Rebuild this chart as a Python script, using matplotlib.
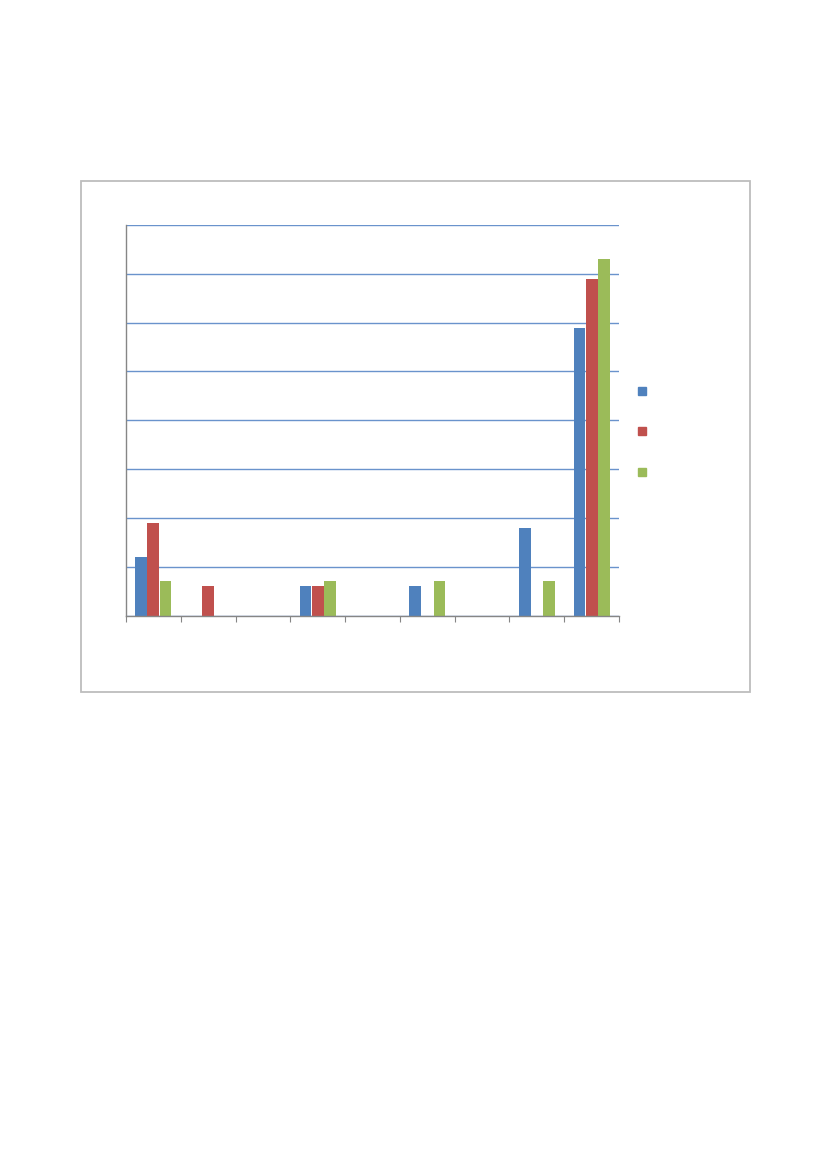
import matplotlib
matplotlib.use("Agg")
import matplotlib.pyplot as plt
from matplotlib.lines import Line2D
from matplotlib.patches import Rectangle
import numpy as np

categories = ["", "", "", "", "", "", "", "", ""]
series_names = ["", "", ""]
series_a = [1.2, 0, 0, 0.6, 0, 0.6, 0, 1.8, 5.9]
series_b = [1.9, 0.6, 0, 0.6, 0, 0, 0, 0, 6.9]
series_c = [0.7, 0, 0, 0.7, 0, 0.7, 0, 0.7, 7.3]
colors = ["#4F81BD", "#C0504D", "#9BBB59"]

fig = plt.figure(figsize=(8.27, 11.69), dpi=100)
fig.patch.set_facecolor("white")

# outer chart frame
fig.add_artist(Rectangle((81 / 827, 1 - 692 / 1169), (750 - 81) / 827, (692 - 181) / 1169,
                         transform=fig.transFigure, fill=False, edgecolor="#BDBDBD", linewidth=1.3))

ax = fig.add_axes([126 / 827, 1 - 615.5 / 1169, 493 / 827, 390.5 / 1169])
x = np.arange(len(categories))
w = 0.222
for i, (vals, c) in enumerate(zip([series_a, series_b, series_c], colors)):
    ax.bar(x + (i - 1) * w, vals, width=w * 0.97, color=c, linewidth=0, zorder=3)

ax.set_xlim(-0.5, len(categories) - 0.5)
ax.set_ylim(0, 8)
ax.set_yticks(np.arange(0, 9, 1))
ax.yaxis.grid(True, color="#6A93CC", linewidth=1.0, zorder=0)
ax.tick_params(axis="y", length=0, labelleft=False)
ax.set_xticks(np.arange(-0.5, len(categories), 1))
ax.tick_params(axis="x", direction="out", length=4, color="#868686", labelbottom=False)
for s in ["top", "right"]:
    ax.spines[s].set_visible(False)
for s in ["left", "bottom"]:
    ax.spines[s].set_color("#868686")
    ax.spines[s].set_linewidth(1.0)
    ax.spines[s].set_zorder(4)
ax.set_facecolor("none")

handles = [Line2D([], [], marker="s", linestyle="none", markersize=5.2, color=c,
                  markeredgecolor=c) for c in colors]
fig.legend(handles, series_names, loc="center left", bbox_to_anchor=(639 / 827, 1 - 432 / 1169),
           frameon=False, fontsize=10, handlelength=0.5, handletextpad=0.5,
           borderpad=0, borderaxespad=0, labelspacing=1.9)

fig.savefig("out.png", dpi=100, facecolor="white")
